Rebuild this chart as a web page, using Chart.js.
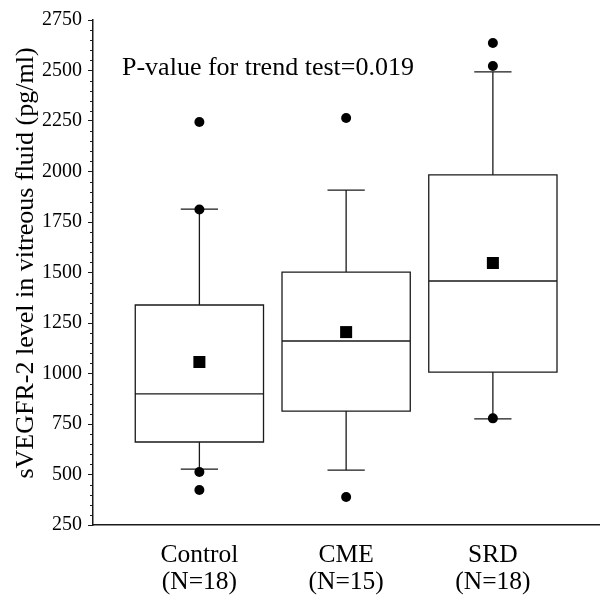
<!DOCTYPE html>
<html lang="en">
<head>
<meta charset="UTF-8">
<title>sVEGFR-2 box plot</title>
<script src="https://cdn.jsdelivr.net/npm/chart.js"></script>
<style>
  body { margin: 0; background: #fff; }
</style>
</head>
<body>
<canvas id="myChart" width="600" height="606"></canvas>
<script>
// values (pg/ml)
const groups = ['Control', 'CME', 'SRD'];
const groupN = ['(N=18)', '(N=15)', '(N=18)'];
const q1 = [661, 814, 1007];
const median = [899, 1161, 1458];
const q3 = [1339, 1502, 1983];
const whiskerLow = [527, 522, 775];
const whiskerHigh = [1814, 1908, 2493];
const means = [1057, 1205, 1547];
const outliers = [[2245, 1812, 512, 423], [2265, 389], [2636, 2522, 778]];
const yTicks = [250, 500, 750, 1000, 1250, 1500, 1750, 2000, 2250, 2500, 2750];
const pText = 'P-value for trend test=0.019';
const yTitle = 'sVEGFR-2 level in vitreous fluid (pg/ml)';

const serif = '"Liberation Serif", "Times New Roman", serif';
const ink = '#1a1a1a';

const outlierPts = [];
outliers.forEach((arr, i) => arr.forEach(v => outlierPts.push({ x: i + 1, y: v })));
const meanPts = means.map((v, i) => ({ x: i + 1, y: v }));

// boxes, whiskers, minor ticks, axis title and the p-value text
const boxPlugin = {
  id: 'boxes',
  beforeDatasetsDraw(chart) {
    const ctx = chart.ctx;
    const xs = chart.scales.x, ys = chart.scales.y;
    ctx.save();
    ctx.strokeStyle = ink;
    ctx.lineWidth = 1.3;
    groups.forEach((g, i) => {
      const cx = xs.getPixelForValue(i + 1);
      const hw = xs.getPixelForValue(i + 1 + 0.437) - cx;
      const cw = xs.getPixelForValue(i + 1 + 0.127) - cx;
      const top = ys.getPixelForValue(q3[i]);
      const bot = ys.getPixelForValue(q1[i]);
      const med = ys.getPixelForValue(median[i]);
      const hi = ys.getPixelForValue(whiskerHigh[i]);
      const lo = ys.getPixelForValue(whiskerLow[i]);
      ctx.beginPath();
      ctx.rect(cx - hw, top, 2 * hw, bot - top);
      ctx.moveTo(cx - hw, med); ctx.lineTo(cx + hw, med);
      ctx.moveTo(cx, top); ctx.lineTo(cx, hi);
      ctx.moveTo(cx - cw, hi); ctx.lineTo(cx + cw, hi);
      ctx.moveTo(cx, bot); ctx.lineTo(cx, lo);
      ctx.moveTo(cx - cw, lo); ctx.lineTo(cx + cw, lo);
      ctx.stroke();
    });
    ctx.restore();
  },
  afterDraw(chart) {
    const ctx = chart.ctx;
    const ys = chart.scales.y;
    const area = chart.chartArea;
    ctx.save();
    ctx.strokeStyle = ink;
    ctx.lineWidth = 1;
    ctx.beginPath();
    for (let v = 300; v < 2750; v += 50) {
      if (v % 250 === 0) continue;
      const y = Math.round(ys.getPixelForValue(v)) + 0.5;
      ctx.moveTo(area.left - 3, y); ctx.lineTo(area.left, y);
    }
    ctx.stroke();
    ctx.fillStyle = '#000';
    ctx.font = '26px ' + serif;
    ctx.textBaseline = 'middle';
    ctx.textAlign = 'left';
    ctx.fillText(pText, area.left + 29, area.top + 48);
    // rotated y axis title
    ctx.font = '26px ' + serif;
    ctx.textAlign = 'center';
    ctx.translate(26, area.top + 243);
    ctx.rotate(-Math.PI / 2);
    ctx.fillText(yTitle, 0, 0);
    ctx.restore();
  }
};

new Chart(document.getElementById('myChart'), {
  type: 'scatter',
  data: {
    datasets: [
      {
        label: 'Outliers',
        data: outlierPts,
        pointStyle: 'circle',
        pointRadius: 5,
        backgroundColor: '#000',
        borderWidth: 0
      },
      {
        label: 'Mean',
        data: meanPts,
        pointStyle: 'rect',
        pointRadius: 8.5,
        backgroundColor: '#000',
        borderWidth: 0
      }
    ]
  },
  options: {
    responsive: false,
    devicePixelRatio: 1,
    animation: false,
    layout: { autoPadding: false, padding: { top: 20, right: 0, left: 0, bottom: 0 } },
    plugins: { legend: { display: false }, tooltip: { enabled: false } },
    scales: {
      x: {
        type: 'linear',
        min: 0.275,
        max: 3.73,
        afterBuildTicks(scale) { scale.ticks = groups.map((g, i) => ({ value: i + 1 })); },
        afterFit(scale) { scale.height = 81; scale.paddingLeft = 0; scale.paddingRight = 0; },
        grid: { display: false, drawTicks: false },
        border: { display: true, color: ink, width: 1.5 },
        ticks: {
          autoSkip: false,
          maxRotation: 0,
          padding: 17,
          color: '#000',
          font: { family: serif, size: 25.5, lineHeight: 1.06 },
          callback(v) { const i = Math.round(v) - 1; return [groups[i], groupN[i]]; }
        }
      },
      y: {
        min: 250,
        max: 2750,
        afterBuildTicks(scale) { scale.ticks = yTicks.map(v => ({ value: v })); },
        afterFit(scale) { scale.width = 93; },
        grid: { drawOnChartArea: false, drawTicks: true, tickLength: 5, tickColor: ink, tickWidth: 1 },
        border: { display: true, color: ink, width: 1.5 },
        ticks: {
          padding: 6,
          color: '#000',
          font: { family: serif, size: 20 },
          callback(v) { return String(v); }
        }
      }
    }
  },
  plugins: [boxPlugin]
});
</script>
</body>
</html>
